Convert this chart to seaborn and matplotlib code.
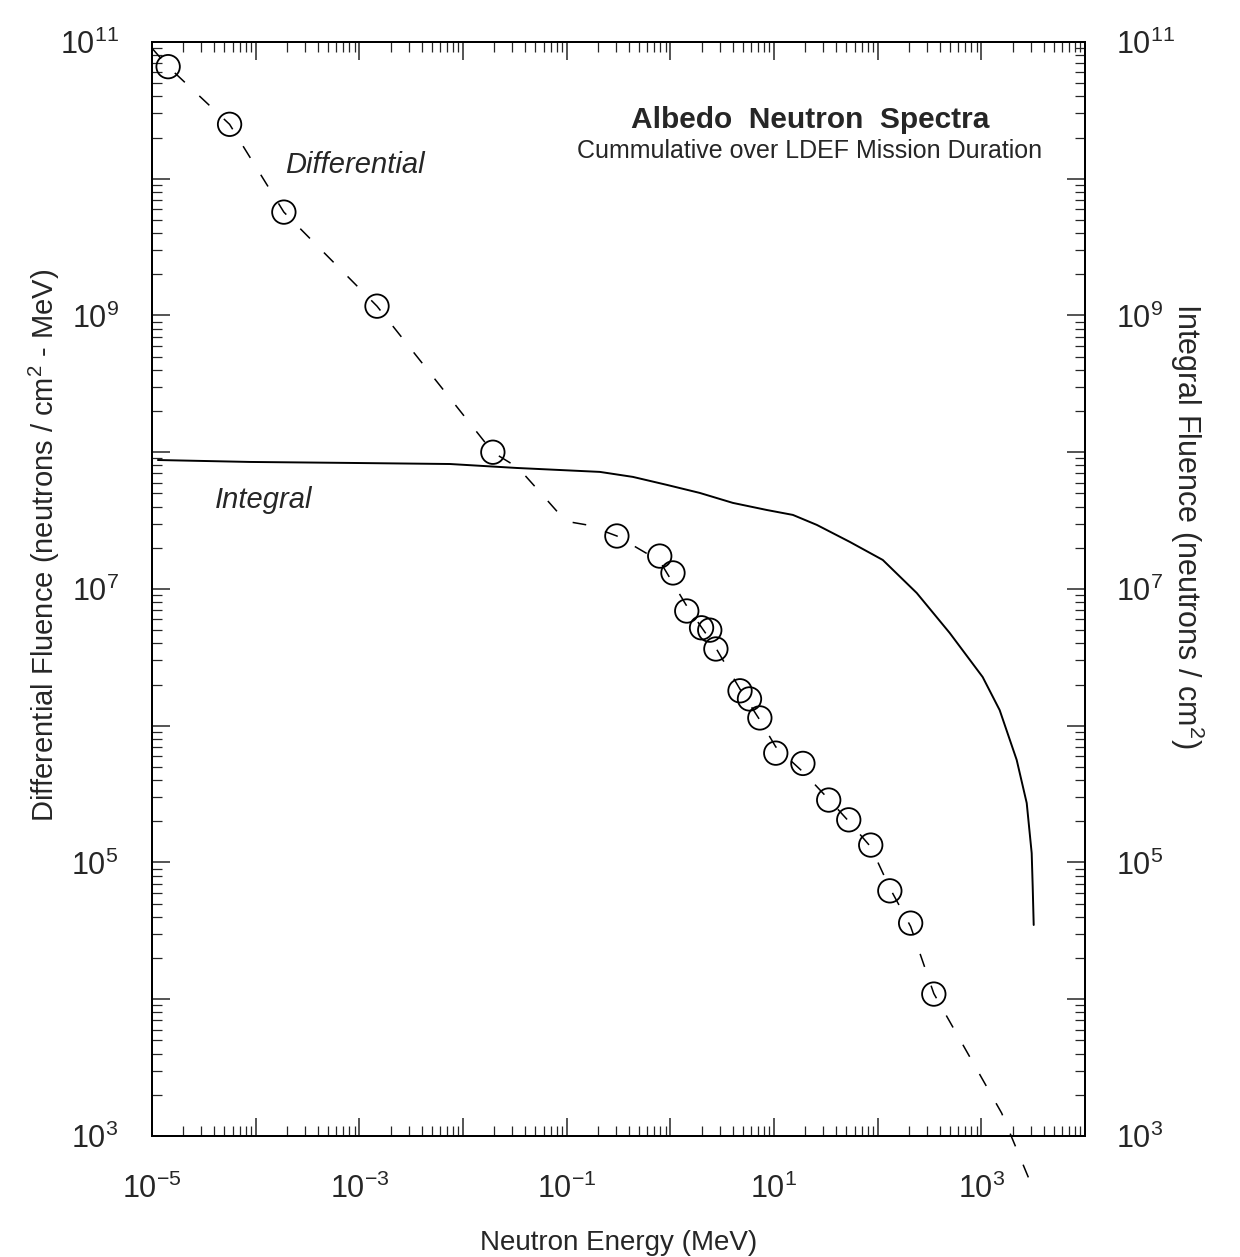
import numpy as np
import pandas as pd
import matplotlib
matplotlib.use("Agg")
import matplotlib.pyplot as plt
import matplotlib.ticker as mticker
import seaborn as sns

# measured points (differential fluence), MeV vs neutrons/cm2-MeV
energy_pts = [1.43e-5, 5.6e-5, 1.87e-4, 1.48e-3, 0.0194, 0.305, 0.79, 1.06, 1.44,
              2.0, 2.4, 2.75, 4.7, 5.8, 7.3, 10.4, 19, 33.7, 52.6, 85.7, 131, 208, 348]
diff_pts = [6.6e10, 2.5e10, 5.7e9, 1.17e9, 1.0e8, 2.44e7, 1.74e7, 1.31e7, 6.9e6,
            5.2e6, 5.0e6, 3.64e6, 1.8e6, 1.57e6, 1.14e6, 6.3e5, 5.3e5, 2.86e5,
            2.05e5, 1.34e5, 6.2e4, 3.6e4, 1.09e4]

# dashed model curve for the differential spectrum
model_e = [1.0e-5, 1.43e-5, 5.6e-5, 1.87e-4, 1.48e-3, 0.0194, 0.034, 0.058, 0.092,
           0.105, 0.157, 0.305, 0.79, 1.44, 2.75, 4.7, 7.3, 10.4, 19, 33.7, 52.6,
           85.7, 131, 208, 348, 1570, 2900]
model_f = [9.0e10, 6.6e10, 2.5e10, 5.7e9, 1.17e9, 1.0e8, 7.7e7, 4.9e7, 3.3e7,
           3.1e7, 2.94e7, 2.44e7, 1.6e7, 7.5e6, 3.7e6, 1.85e6, 1.1e6, 7.0e5,
           4.6e5, 2.9e5, 2.0e5, 1.3e5, 6.5e4, 3.4e4, 1.1e4, 1.47e3, 4.8e2]

# integral fluence (solid line), neutrons/cm2
integ_e = [1.14e-5, 8.8e-5, 8.1e-4, 7.48e-3, 0.0331, 0.209, 0.435, 0.925, 1.92, 4.01,
           8.53, 15.2, 25.9, 53.8, 112, 238, 495, 1030, 1503, 2193, 2740, 3060,
           3130, 3200]
integ_f = [8.77e7, 8.49e7, 8.35e7, 8.2e7, 7.67e7, 7.18e7, 6.6e7, 5.77e7, 5.04e7, 4.26e7,
           3.78e7, 3.48e7, 2.94e7, 2.21e7, 1.63e7, 9.35e6, 4.77e6, 2.27e6, 1.3e6,
           5.62e5, 2.72e5, 1.17e5, 6.62e4, 3.49e4]

x_exps = list(range(-5, 5))
y_exps = list(range(3, 12))

sns.set_style("ticks")
plt.rcParams["font.family"] = ["Liberation Sans", "DejaVu Sans"]
plt.rcParams["mathtext.fontset"] = "custom"
plt.rcParams["mathtext.rm"] = "Liberation Sans"
plt.rcParams["mathtext.it"] = "Liberation Sans:italic"

fig = plt.figure(figsize=(12.4, 12.57), dpi=100)
ax = fig.add_axes([0.1226, 0.0963, 0.7524, 0.8703])

pts = pd.DataFrame({"energy": energy_pts, "fluence": diff_pts})
model = pd.DataFrame({"energy": model_e, "fluence": model_f})
integ = pd.DataFrame({"energy": integ_e, "fluence": integ_f})

sns.lineplot(data=model, x="energy", y="fluence", ax=ax, color="black", lw=1.1,
             sort=False, estimator=None, linestyle=(0, (9, 13)), clip_on=False)
sns.scatterplot(data=pts, x="energy", y="fluence", ax=ax, s=285, marker="o",
                facecolor="none", edgecolor="black", linewidth=1.3, zorder=3)

ax.set_xscale("log")
ax.set_yscale("log")
ax.set_xlim(1e-5, 1e4)
ax.set_ylim(1e3, 1e11)

ax2 = ax.twinx()
sns.lineplot(data=integ, x="energy", y="fluence", ax=ax2, color="black", lw=1.4,
             sort=False, estimator=None)
ax2.set_yscale("log")
ax2.set_ylim(1e3, 1e11)
ax2.set_xlim(1e-5, 1e4)

# ticks: every decade, labels on odd exponents only
ax.set_xticks([10.0 ** k for k in x_exps])
ax.set_xticklabels(["$10^{%d}$" % k if k % 2 else "" for k in x_exps])
ax.set_yticks([10.0 ** k for k in y_exps])
ax.set_yticklabels(["$10^{%d}$" % k if k % 2 else "" for k in y_exps])
ax2.set_yticks([10.0 ** k for k in y_exps])
ax2.set_yticklabels(["$10^{%d}$" % k if k % 2 else "" for k in y_exps])
ax.xaxis.set_minor_locator(mticker.LogLocator(base=10, subs=np.arange(2, 10), numticks=100))
ax.yaxis.set_minor_locator(mticker.LogLocator(base=10, subs=np.arange(2, 10), numticks=100))
ax2.yaxis.set_minor_locator(mticker.LogLocator(base=10, subs=np.arange(2, 10), numticks=100))
ax.xaxis.set_minor_formatter(mticker.NullFormatter())
ax.yaxis.set_minor_formatter(mticker.NullFormatter())
ax2.yaxis.set_minor_formatter(mticker.NullFormatter())

for a in (ax, ax2):
    a.tick_params(which="major", direction="in", length=13, width=1.1, labelsize=22)
    a.tick_params(which="minor", direction="in", length=7, width=0.9)
    for s in a.spines.values():
        s.set_linewidth(1.4)
        s.set_color("black")
ax.tick_params(axis="x", which="both", top=True, pad=27)
ax.tick_params(axis="y", which="both", pad=24)
ax2.tick_params(axis="y", which="both", pad=22)

ax.set_xlabel("Neutron Energy (MeV)", fontsize=20, labelpad=18)
ax.set_ylabel("Differential Fluence (neutrons / cm$^{2}$ - MeV)", fontsize=21)
ax.yaxis.set_label_coords(-0.097, 0.54)
ax2.set_ylabel("Integral Fluence (neutrons / cm$^{2}$)", fontsize=22, rotation=270)
ax2.yaxis.set_label_coords(1.13, 0.558)

ax.text(0.705, 0.921, "Albedo  Neutron  Spectra", transform=ax.transAxes,
        ha="center", fontsize=21.5, fontweight="bold")
ax.text(0.705, 0.894, "Cummulative over LDEF Mission Duration", transform=ax.transAxes,
        ha="center", fontsize=18)
ax.text(0.218, 0.88, "Differential", transform=ax.transAxes, ha="center",
        fontsize=21, style="italic")
ax.text(0.12, 0.574, "Integral", transform=ax.transAxes, ha="center",
        fontsize=21, style="italic")

fig.savefig("out.png", dpi=100)
